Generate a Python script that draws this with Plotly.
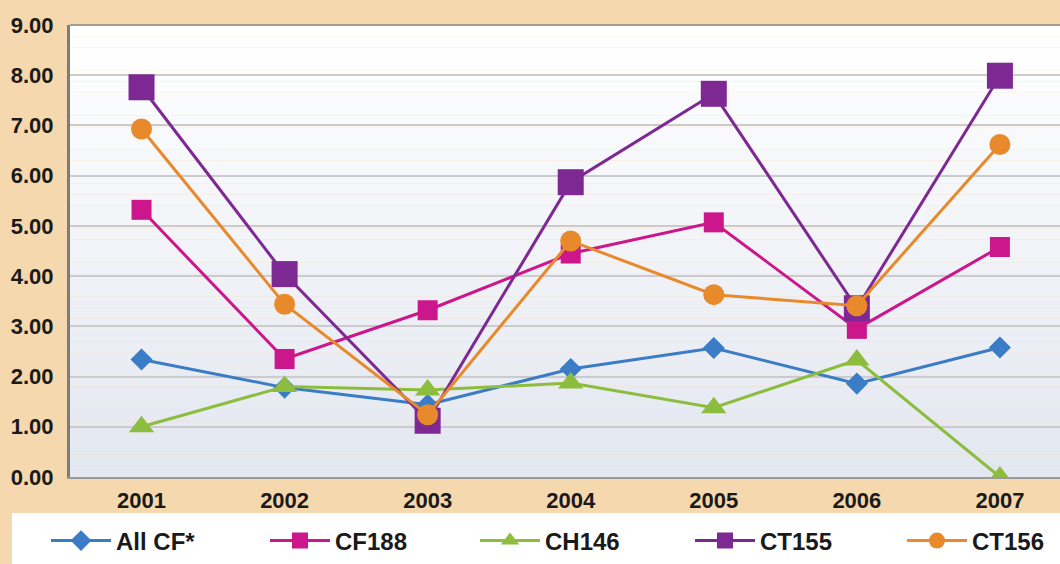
import plotly.graph_objects as go

years = ["2001", "2002", "2003", "2004", "2005", "2006", "2007"]
all_cf = [2.34, 1.78, 1.44, 2.15, 2.57, 1.86, 2.58]
cf188 = [5.32, 2.35, 3.32, 4.45, 5.07, 2.95, 4.58]
ch146 = [1.00, 1.80, 1.73, 1.87, 1.38, 2.33, 0.00]
ct155 = [7.76, 4.04, 1.12, 5.87, 7.63, 3.36, 7.99]
ct156 = [6.93, 3.44, 1.24, 4.70, 3.63, 3.41, 6.62]
y_ticks = [0, 1, 2, 3, 4, 5, 6, 7, 8, 9]
y_labels = ["0.00", "1.00", "2.00", "3.00", "4.00", "5.00", "6.00", "7.00", "8.00", "9.00"]

series = [
    ("All CF*", all_cf, "#3b7cc6", "diamond", 17),
    ("CF188", cf188, "#cc168b", "square", 20),
    ("CH146", ch146, "#8dbd3f", "triangle-up", 22),
    ("CT155", ct155, "#7d2893", "square", 26),
    ("CT156", ct156, "#e8892b", "circle", 21),
]
legend_px = [46, 265, 475, 690, 902]

FONT = "Liberation Sans, Arial, sans-serif"

fig = go.Figure()
legend_layouts = {}
for i, (name, vals, color, sym, size) in enumerate(series):
    lname = "legend" if i == 0 else "legend%d" % (i + 1)
    fig.add_trace(go.Scatter(
        x=years, y=vals, name=name, mode="lines+markers",
        line=dict(color=color, width=3),
        marker=dict(symbol=sym, size=size, color=color, line=dict(width=0)),
        legend=lname,
    ))
    legend_layouts[lname] = dict(
        orientation="h", xref="container", yref="container",
        x=legend_px[i] / 1060, xanchor="left",
        y=(564 - 541) / 564, yanchor="middle",
        bgcolor="rgba(0,0,0,0)", itemwidth=60,
        font=dict(family=FONT, size=24, color="#1a1a1a", weight="bold"),
    )

shapes = []
n = 40
top = (255, 255, 255)
bot = (227, 231, 240)
for i in range(n):
    f = i / (n - 1)
    c = tuple(round(top[k] + (bot[k] - top[k]) * f) for k in range(3))
    y1 = 1 - i / n
    y0 = 1 - (i + 1) / n
    shapes.append(dict(type="rect", xref="paper", yref="paper", x0=0, x1=1,
                       y0=y0, y1=y1, fillcolor="rgb(%d,%d,%d)" % c,
                       line=dict(width=0), layer="below"))
shapes.append(dict(type="line", xref="paper", yref="paper", x0=0, x1=1, y0=1, y1=1,
                   line=dict(color="#a89c8c", width=2), layer="above"))
# legend white band (513..564 px)
shapes.append(dict(type="rect", xref="paper", yref="paper", x0=-0.0586, x1=1.02,
                   y0=-0.25, y1=-0.0797, fillcolor="white", line=dict(width=0),
                   layer="below"))

fig.update_layout(
    width=1060, height=564,
    margin=dict(l=70, r=0, t=25, b=87, autoexpand=False),
    paper_bgcolor="#f5d8ae",
    plot_bgcolor="rgba(0,0,0,0)",
    shapes=shapes,
    showlegend=True,
    font=dict(family=FONT, color="#1a1a1a"),
    **legend_layouts,
)
fig.update_xaxes(
    type="category", range=[-0.5, 6.42], automargin=False,
    showgrid=False, showline=True, linecolor="#9a9a9a", linewidth=2,
    tickfont=dict(family=FONT, size=22, color="#1a1a1a", weight="bold"),
    ticks="", ticklabelstandoff=3, zeroline=False,
)
fig.update_yaxes(
    range=[0, 9], tickvals=y_ticks, ticktext=y_labels, automargin=False,
    showgrid=True, gridcolor="#cbcbcb", gridwidth=2,
    showline=True, linecolor="#7c7c7c", linewidth=3,
    tickfont=dict(family=FONT, size=22, color="#1a1a1a", weight="bold"),
    ticks="", ticklabelstandoff=9, zeroline=False,
)

fig.write_html("out.html")
